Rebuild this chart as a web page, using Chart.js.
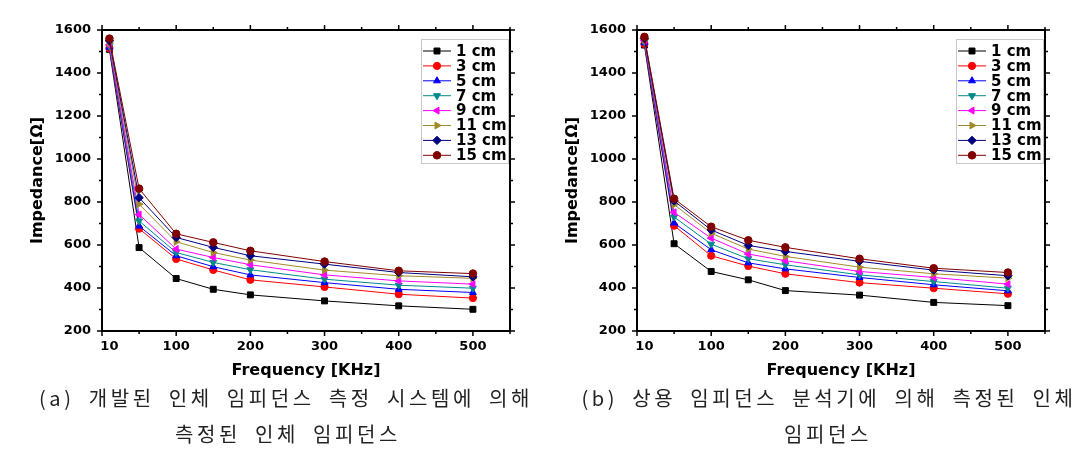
<!DOCTYPE html>
<html>
<head>
<meta charset="utf-8">
<script src="https://cdn.jsdelivr.net/npm/chart.js@4.4.1/dist/chart.umd.min.js"></script>
<style>
  html, body { margin: 0; padding: 0; background: #fff; }
  body { width: 1091px; height: 466px; position: relative; overflow: hidden; }
  .plot { position: absolute; top: 0; }
  #plotA { left: 0; }
  #plotB { left: 535px; }
  .cap {
    position: absolute; text-align: center; white-space: nowrap;
    font-family: "Noto Sans CJK KR", sans-serif; font-size: 20px;
    letter-spacing: 3.6px; word-spacing: 6px; line-height: 24px; color: #222;
  }
</style>
</head>
<body>
<canvas id="plotA" class="plot" width="545" height="390"></canvas>
<canvas id="plotB" class="plot" width="545" height="390"></canvas>
<div class="cap" style="left:0;width:572px;top:386px">(a) 개발된 인체 임피던스 측정 시스템에 의해</div>
<div class="cap" style="left:0;width:576px;top:422px">측정된 인체 임피던스</div>
<div class="cap" style="left:560px;width:538px;top:386px">(b) 상용 임피던스 분석기에 의해 측정된 인체</div>
<div class="cap" style="left:560px;width:536px;top:422px">임피던스</div>
<script>
// frequencies (KHz) and series labels
const freq = [10, 50, 100, 150, 200, 300, 400, 500];
const seriesLabels = ['1 cm', '3 cm', '5 cm', '7 cm', '9 cm', '11 cm', '13 cm', '15 cm'];
const xTicks = [10, 100, 200, 300, 400, 500];
const yTicks = [200, 400, 600, 800, 1000, 1200, 1400, 1600];

// (a) developed measurement system
const a1  = [1510, 588, 444, 394, 368, 340, 317, 301];
const a3  = [1515, 676, 535, 484, 438, 405, 371, 353];
const a5  = [1520, 688, 550, 499, 461, 425, 394, 379];
const a7  = [1525, 712, 565, 519, 485, 441, 413, 399];
const a9  = [1530, 742, 581, 542, 508, 461, 433, 418];
const a11 = [1540, 790, 615, 565, 530, 483, 457, 445];
const a13 = [1550, 820, 635, 589, 550, 511, 472, 452];
const a15 = [1560, 862, 652, 612, 573, 523, 480, 467];

// (b) commercial impedance analyzer
const b1  = [1530, 606, 477, 438, 388, 367, 333, 318];
const b3  = [1535, 690, 550, 502, 466, 425, 399, 373];
const b5  = [1540, 702, 578, 517, 489, 449, 415, 387];
const b7  = [1545, 730, 604, 536, 508, 461, 430, 399];
const b9  = [1550, 752, 632, 558, 527, 477, 449, 418];
const b11 = [1555, 788, 655, 581, 547, 497, 466, 446];
const b13 = [1560, 805, 670, 598, 570, 524, 483, 457];
const b15 = [1568, 815, 685, 622, 589, 536, 492, 472];

const colors = ['#000000', '#ff0000', '#0000ff', '#008b8b', '#ff00ff', '#a08a28', '#000080', '#800000'];
const styles = ['rect', 'circle', 'triangle', 'triangle', 'triangle', 'triangle', 'rectRot', 'circle'];
const rotations = [0, 0, 0, 180, -90, 90, 0, 0];
const radii = [4.2, 3.6, 4, 4, 4, 4, 4.2, 3.8];

const FONT = 'DejaVu Sans';

// black frame + outward ticks on all four sides (Origin style)
const frameTicks = {
  id: 'frameTicks',
  afterDraw(chart) {
    const { ctx, chartArea: a, scales: { x, y } } = chart;
    ctx.save();
    ctx.strokeStyle = '#000';
    ctx.lineWidth = 1.5;
    ctx.beginPath();
    for (let v = 0; v <= 550; v += 50) {
      const px = x.getPixelForValue(v), len = v % 100 === 0 ? 5 : 3;
      ctx.moveTo(px, a.bottom); ctx.lineTo(px, a.bottom + len);
      ctx.moveTo(px, a.top); ctx.lineTo(px, a.top - len);
    }
    for (let v = 200; v <= 1600; v += 100) {
      const py = y.getPixelForValue(v), len = v % 200 === 0 ? 5 : 3;
      ctx.moveTo(a.left, py); ctx.lineTo(a.left - len, py);
      ctx.moveTo(a.right, py); ctx.lineTo(a.right + len, py);
    }
    ctx.stroke();
    ctx.lineWidth = 2;
    ctx.strokeRect(a.left, a.top, a.right - a.left, a.bottom - a.top);
    ctx.restore();
  }
};

// boxed legend in the top-right of the plot area
const boxLegend = {
  id: 'boxLegend',
  afterDraw(chart) {
    const { ctx, chartArea: a } = chart;
    const ds = chart.data.datasets;
    const x0 = a.right - 89, y0 = a.top + 9, w = 87, rowH = 14.9;
    ctx.save();
    ctx.fillStyle = '#fff';
    ctx.fillRect(x0, y0, w, 124);
    ctx.strokeStyle = '#c8c8c8';
    ctx.lineWidth = 1;
    ctx.strokeRect(x0 + 0.5, y0 + 0.5, w, 124);
    ds.forEach((d, i) => {
      const cy = y0 + 12 + i * rowH;
      ctx.strokeStyle = d.borderColor;
      ctx.lineWidth = 1;
      ctx.beginPath();
      ctx.moveTo(x0 + 2, cy); ctx.lineTo(x0 + 30, cy);
      ctx.stroke();
      ctx.fillStyle = d.backgroundColor;
      Chart.helpers.drawPoint(ctx, {
        pointStyle: d.pointStyle, rotation: d.pointRotation, radius: d.pointRadius, borderWidth: 1
      }, x0 + 16, cy);
      ctx.fillStyle = '#000';
      ctx.font = 'bold 15px "' + FONT + '"';
      ctx.textBaseline = 'middle';
      ctx.textAlign = 'left';
      ctx.fillText(d.label, x0 + 35, cy + 1);
    });
    ctx.restore();
  }
};

function makeChart(id, series) {
  const datasets = series.map((vals, i) => ({
    label: seriesLabels[i],
    data: freq.map((f, k) => ({ x: f, y: vals[k] })),
    borderColor: colors[i],
    backgroundColor: colors[i],
    borderWidth: 1,
    pointStyle: styles[i],
    pointRotation: rotations[i],
    pointRadius: radii[i],
    pointBorderWidth: 1,
    tension: 0,
    order: series.length - 1 - i
  }));
  const tickFont = { family: FONT, weight: 'bold', size: 13 };
  const titleFont = { family: FONT, weight: 'bold', size: 16 };
  return new Chart(document.getElementById(id), {
    type: 'line',
    data: { datasets },
    options: {
      responsive: false,
      animation: false,
      devicePixelRatio: 1,
      layout: { padding: { top: 30, right: 35, left: 0, bottom: 0 } },
      plugins: { legend: { display: false }, tooltip: { enabled: false } },
      scales: {
        x: {
          type: 'linear', min: 0, max: 550,
          afterBuildTicks: s => { s.ticks = xTicks.map(v => ({ value: v })); },
          afterFit: s => { s.height = 59; },
          grid: { display: false, drawTicks: false },
          border: { display: false },
          ticks: { color: '#000', font: tickFont, padding: 8, maxRotation: 0, autoSkip: false, callback: v => String(v) },
          title: { display: true, text: 'Frequency [KHz]', color: '#000', font: titleFont, padding: { top: 0, bottom: 10 } }
        },
        y: {
          min: 200, max: 1600,
          afterBuildTicks: s => { s.ticks = yTicks.map(v => ({ value: v })); },
          afterFit: s => { s.width = 102; },
          grid: { display: false, drawTicks: false },
          border: { display: false },
          ticks: { color: '#000', font: tickFont, padding: 11, callback: v => String(v) },
          title: { display: true, text: 'Impedance[Ω]', color: '#000', font: titleFont, padding: { top: 28, bottom: 0 } }
        }
      }
    },
    plugins: [frameTicks, boxLegend]
  });
}

makeChart('plotA', [a1, a3, a5, a7, a9, a11, a13, a15]);
makeChart('plotB', [b1, b3, b5, b7, b9, b11, b13, b15]);
</script>
</body>
</html>
